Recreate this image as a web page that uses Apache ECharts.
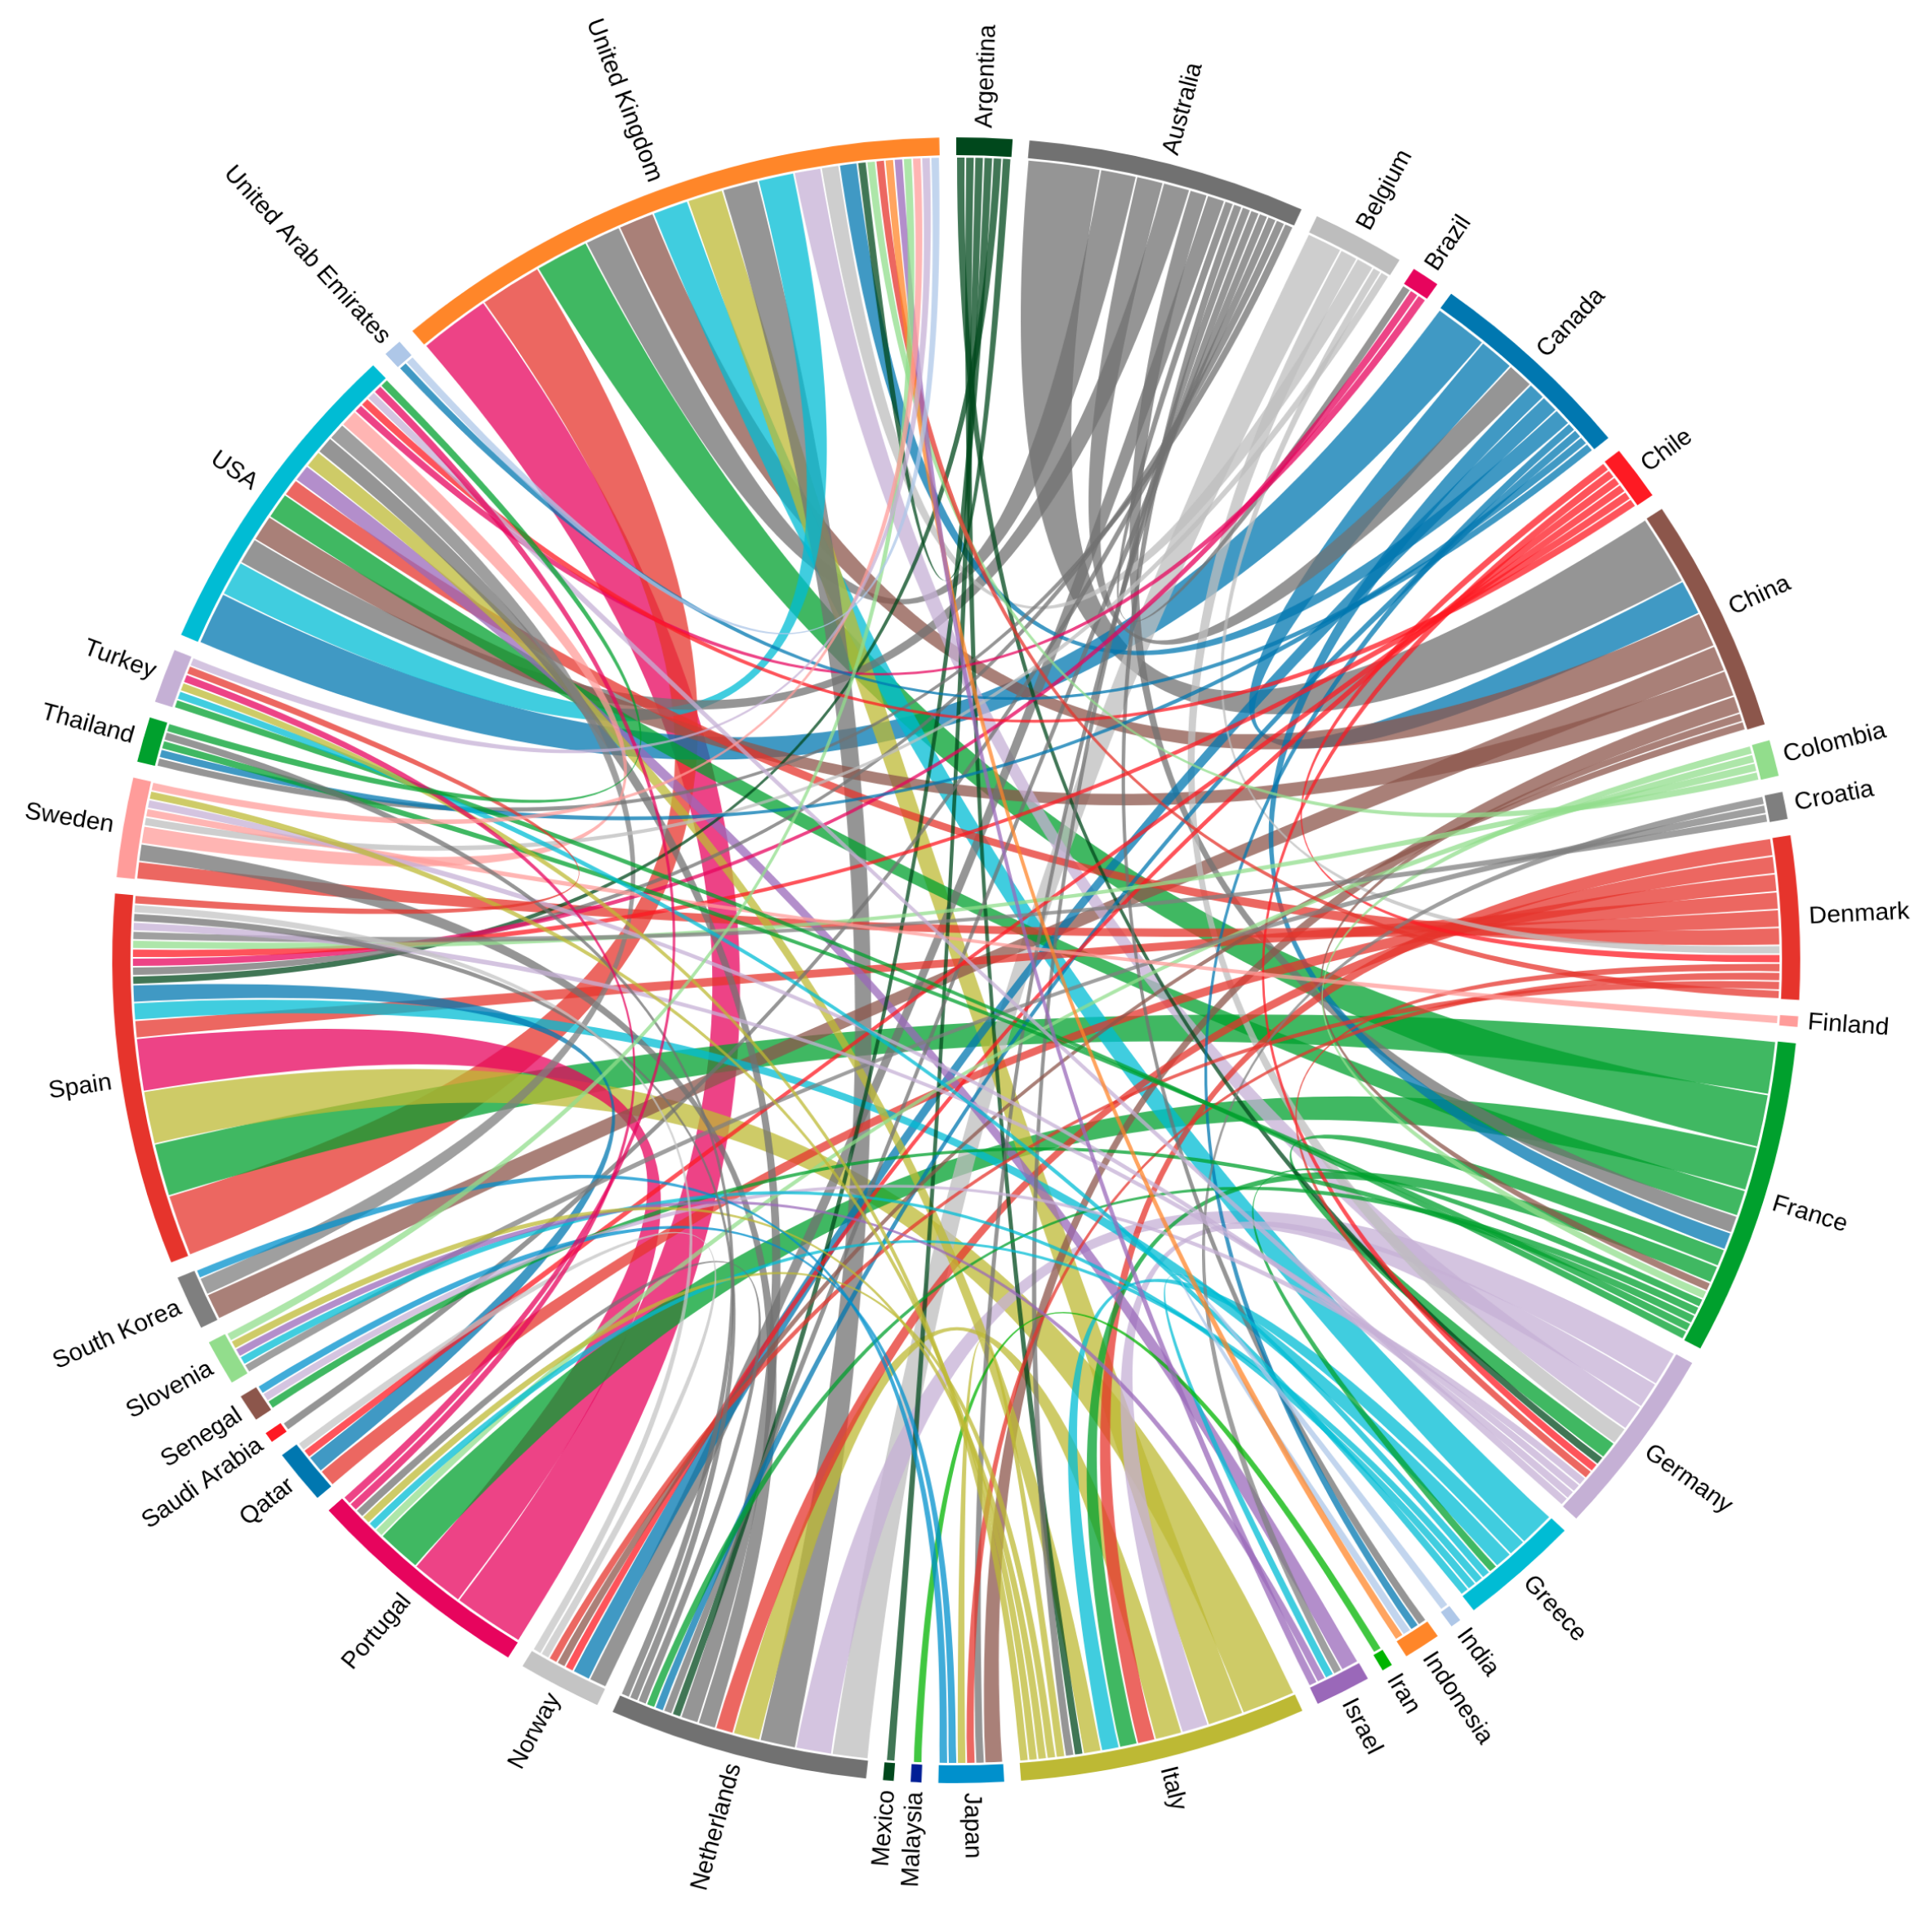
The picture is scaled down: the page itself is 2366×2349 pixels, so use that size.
<!DOCTYPE html>
<html>
<head>
<meta charset="utf-8">
<title>Chord</title>
<style>
  html, body { margin: 0; padding: 0; background: #fff; overflow: hidden; }
  /* the reference circle is a bit wider than tall */
  #chart { width: 2366px; height: 2349px; transform-origin: 1171px 1176px; transform: scale(1.0133, 0.988); }
</style>
<script src="https://cdn.jsdelivr.net/npm/echarts@6/dist/echarts.min.js"></script>
</head>
<body>
<div id="chart"></div>
<script>
const countries = ['Argentina', 'Australia', 'Belgium', 'Brazil', 'Canada', 'Chile', 'China', 'Colombia', 'Croatia',
  'Denmark', 'Finland', 'France', 'Germany', 'Greece', 'India', 'Indonesia', 'Iran', 'Israel', 'Italy', 'Japan',
  'Malaysia', 'Mexico', 'Netherlands', 'Norway', 'Portugal', 'Qatar', 'Saudi Arabia', 'Senegal', 'Slovenia',
  'South Korea', 'Spain', 'Sweden', 'Thailand', 'Turkey', 'USA', 'United Arab Emirates', 'United Kingdom'];

const colors = ['#00481c', '#717171', '#bdbdbd', '#e7045d', '#0077b0', '#fe1a23', '#8c564b', '#92dd8c', '#7f7f7f',
  '#e6342c', '#ff9c9a', '#00a02d', '#c5b0d5', '#00bcd4', '#aec7e8', '#ff8629', '#00b400', '#9a68b9', '#bdb934', '#0090cc',
  '#001e96', '#00481c', '#717171', '#c4c4c4', '#e7045d', '#0077b0', '#fe1a23', '#8c564b', '#92dd8c',
  '#7f7f7f', '#e6342c', '#ff9c9a', '#00a02d', '#c5b0d5', '#00bcd4', '#aec7e8', '#ff8629'];

// arcs with a single ribbon read a little wider than one unit
const singleArcs = ['Finland', 'India', 'Iran', 'Malaysia', 'Mexico', 'Saudi Arabia'];
const singleArcValue = 1.15;

// [source, target, count]
const links = [
  ['Argentina', 'Germany', 1], ['Argentina', 'Italy', 1], ['Argentina', 'Mexico', 1], ['Argentina', 'Netherlands', 1],
  ['Argentina', 'Spain', 1], ['Argentina', 'United Kingdom', 1],
  ['Australia', 'Brazil', 1], ['Australia', 'Canada', 3], ['Australia', 'China', 8], ['Australia', 'France', 2],
  ['Australia', 'Indonesia', 1], ['Australia', 'Italy', 1], ['Australia', 'Japan', 1], ['Australia', 'Netherlands', 1],
  ['Australia', 'Norway', 2], ['Australia', 'Saudi Arabia', 1], ['Australia', 'Spain', 1], ['Australia', 'Thailand', 1],
  ['Australia', 'USA', 3], ['Australia', 'United Kingdom', 4],
  ['Belgium', 'Denmark', 1], ['Belgium', 'Germany', 2], ['Belgium', 'Netherlands', 4], ['Belgium', 'Sweden', 1],
  ['Belgium', 'United Kingdom', 2],
  ['Brazil', 'Spain', 1], ['Brazil', 'USA', 1],
  ['Canada', 'China', 4], ['Canada', 'France', 2], ['Canada', 'Indonesia', 1], ['Canada', 'Netherlands', 1],
  ['Canada', 'Norway', 2], ['Canada', 'Thailand', 1], ['Canada', 'USA', 6], ['Canada', 'United Arab Emirates', 1],
  ['Canada', 'United Kingdom', 2],
  ['Chile', 'Denmark', 1], ['Chile', 'Germany', 1], ['Chile', 'Norway', 1], ['Chile', 'Qatar', 1], ['Chile', 'Spain', 1],
  ['Chile', 'USA', 1],
  ['China', 'France', 1], ['China', 'Japan', 2], ['China', 'Norway', 1], ['China', 'South Korea', 3], ['China', 'USA', 3],
  ['China', 'United Kingdom', 4],
  ['Colombia', 'France', 1], ['Colombia', 'Portugal', 1], ['Colombia', 'Spain', 1], ['Colombia', 'United Kingdom', 1],
  ['Croatia', 'Israel', 1], ['Croatia', 'Slovenia', 1], ['Croatia', 'Spain', 1],
  ['Denmark', 'Germany', 1], ['Denmark', 'Italy', 2], ['Denmark', 'Japan', 1], ['Denmark', 'Netherlands', 2],
  ['Denmark', 'Norway', 1], ['Denmark', 'Qatar', 2], ['Denmark', 'Spain', 2], ['Denmark', 'Sweden', 2], ['Denmark', 'USA', 2],
  ['Denmark', 'United Kingdom', 1],
  ['Finland', 'Sweden', 1],
  ['France', 'Germany', 2], ['France', 'Greece', 1], ['France', 'Italy', 2], ['France', 'Netherlands', 1],
  ['France', 'Portugal', 5], ['France', 'Senegal', 1], ['France', 'Spain', 6], ['France', 'Thailand', 1],
  ['France', 'Turkey', 1], ['France', 'USA', 3], ['France', 'United Kingdom', 6],
  ['Germany', 'Italy', 3], ['Germany', 'Netherlands', 4], ['Germany', 'Senegal', 1], ['Germany', 'Spain', 1],
  ['Germany', 'Sweden', 1], ['Germany', 'USA', 1], ['Germany', 'United Kingdom', 3],
  ['Greece', 'Israel', 1], ['Greece', 'Italy', 2], ['Greece', 'Portugal', 1], ['Greece', 'Slovenia', 1], ['Greece', 'Spain', 2],
  ['Greece', 'Turkey', 1], ['Greece', 'United Kingdom', 4],
  ['India', 'Indonesia', 1],
  ['Indonesia', 'United Kingdom', 1],
  ['Iran', 'Malaysia', 1],
  ['Israel', 'Slovenia', 1], ['Israel', 'USA', 2], ['Israel', 'United Kingdom', 1],
  ['Italy', 'Japan', 1], ['Italy', 'Netherlands', 3], ['Italy', 'Portugal', 1], ['Italy', 'Slovenia', 1], ['Italy', 'Spain', 6],
  ['Italy', 'Sweden', 1], ['Italy', 'Turkey', 1], ['Italy', 'USA', 2], ['Italy', 'United Kingdom', 4],
  ['Japan', 'Senegal', 1], ['Japan', 'South Korea', 1],
  ['Netherlands', 'Portugal', 1], ['Netherlands', 'Spain', 1], ['Netherlands', 'Sweden', 2], ['Netherlands', 'Thailand', 1],
  ['Netherlands', 'USA', 2], ['Netherlands', 'United Kingdom', 4],
  ['Norway', 'Qatar', 1], ['Norway', 'Spain', 1],
  ['Portugal', 'Spain', 6], ['Portugal', 'Turkey', 1], ['Portugal', 'USA', 1], ['Portugal', 'United Kingdom', 8],
  ['Qatar', 'Spain', 2],
  ['Slovenia', 'United Kingdom', 1],
  ['South Korea', 'USA', 2],
  ['Spain', 'Turkey', 1], ['Spain', 'United Kingdom', 7],
  ['Sweden', 'USA', 2], ['Sweden', 'United Kingdom', 1],
  ['Thailand', 'USA', 1],
  ['Turkey', 'United Kingdom', 1],
  ['USA', 'United Kingdom', 4],
  ['United Arab Emirates', 'United Kingdom', 1]
];

// biggest ribbons first so every arc fills up in descending order, ties stay alphabetical
const sortedLinks = links.slice().sort((a, b) =>
  b[2] - a[2] || countries.indexOf(a[0]) - countries.indexOf(b[0]) || countries.indexOf(a[1]) - countries.indexOf(b[1]));

const chart = echarts.init(document.getElementById('chart'));

chart.setOption({
  animation: false,
  backgroundColor: '#fff',
  series: [{
    type: 'chord',
    center: [1171, 1176],
    radius: [998, 1020],
    startAngle: 90,
    clockwise: true,
    padAngle: 1.15,
    minAngle: 0,
    label: { show: false },
    itemStyle: { borderRadius: 0, borderWidth: 0 },
    lineStyle: { color: 'source', opacity: 0.75, width: 0 },
    data: countries.map((name, i) => {
      const d = { name, itemStyle: { color: colors[i] } };
      if (singleArcs.includes(name)) d.value = singleArcValue;
      return d;
    }),
    links: sortedLinks.map(l => ({ source: l[0], target: l[1], value: l[2] }))
  }]
});

// chord labels can't rotate, so put radial text at the arc middles the layout came up with
const nodeData = chart.getModel().getSeriesByIndex(0).getData();
const labelGap = 12;
const labels = countries.map((name, i) => {
  const lay = nodeData.getItemLayout(i);
  const mid = (lay.startAngle + lay.endAngle) / 2;
  const right = Math.cos(mid) >= 0;
  return {
    type: 'text',
    x: lay.cx + Math.cos(mid) * (lay.r + labelGap),
    y: lay.cy + Math.sin(mid) * (lay.r + labelGap),
    rotation: right ? -mid : Math.PI - mid,
    style: {
      text: name,
      fill: '#000',
      font: '30px "Liberation Sans", Arial, sans-serif',
      align: right ? 'left' : 'right',
      verticalAlign: 'middle'
    }
  };
});
chart.setOption({ graphic: labels });

// reference ribbons stop short of the arc and of each other, the option has no setting for that
const ribbonInset = 3;
const ribbonGap = 1;
chart.getZr().storage.traverse(el => {
  const s = el.shape;
  if (!s || s.sStartAngle === undefined) return;
  const r = s.r - ribbonInset;
  const d = ribbonGap / r;
  const pt = a => [s.cx + r * Math.cos(a), s.cy + r * Math.sin(a)];
  const a1 = s.sStartAngle + d, a2 = s.sEndAngle - d, b1 = s.tStartAngle + d, b2 = s.tEndAngle - d;
  el.setShape({ r, sStartAngle: a1, sEndAngle: a2, tStartAngle: b1, tEndAngle: b2,
    s1: pt(a1), s2: pt(a2), t1: pt(b1), t2: pt(b2) });
});
</script>
</body>
</html>
